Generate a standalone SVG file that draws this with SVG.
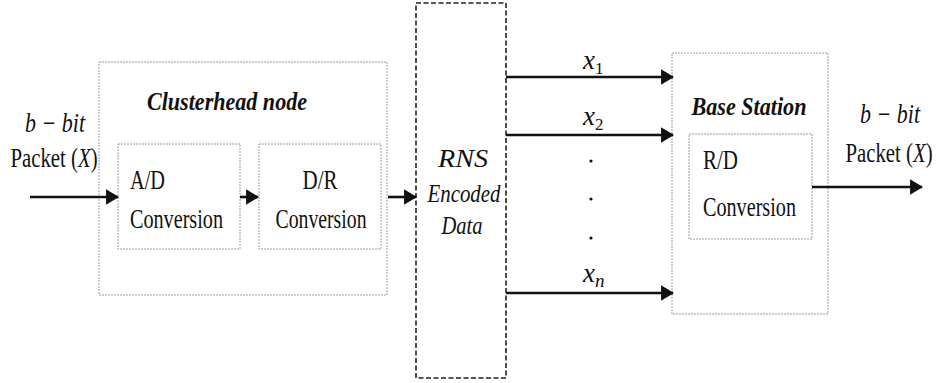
<svg xmlns="http://www.w3.org/2000/svg" width="936" height="383" viewBox="0 0 936 383">
<style>
.box{fill:#fff;stroke:#9c9c9c;stroke-width:1;stroke-dasharray:2 1}
.rns{fill:#fff;stroke:#222;stroke-width:1.6;stroke-dasharray:5 2.5}
.conn{stroke:#111;stroke-width:2.6;fill:none;marker-end:url(#ah)}
text{font-family:'Liberation Serif','DejaVu Serif',serif;fill:#111}
.i{font-style:italic}
.bi{font-style:italic;font-weight:bold}
</style>
<defs>
<marker id="ah" markerWidth="5" markerHeight="6" refX="4.6" refY="3" orient="auto" markerUnits="strokeWidth">
<path d="M0,0 L5,3 L0,6 z" fill="#111"/>
</marker>
</defs>
<rect width="936" height="383" fill="#fff"/>
<g id="clusterhead">
<rect class="box" x="99" y="62" width="288" height="233"/>
<text class="bi" font-family="Liberation Serif, serif" x="227" y="110" font-size="26" text-anchor="middle" textLength="160" lengthAdjust="spacingAndGlyphs">Clusterhead node</text>
</g>
<g id="ad">
<rect class="box" x="118" y="144" width="122" height="105"/>
<text font-family="Liberation Serif, serif" x="130" y="189" font-size="28" textLength="35" lengthAdjust="spacingAndGlyphs">A/D</text>
<text font-family="Liberation Serif, serif" x="130" y="228" font-size="28" textLength="93" lengthAdjust="spacingAndGlyphs">Conversion</text>
</g>
<g id="dr">
<rect class="box" x="259" y="144" width="122" height="105"/>
<text font-family="Liberation Serif, serif" x="320" y="189" font-size="28" text-anchor="middle" textLength="35" lengthAdjust="spacingAndGlyphs">D/R</text>
<text font-family="Liberation Serif, serif" x="321" y="228" font-size="28" text-anchor="middle" textLength="91" lengthAdjust="spacingAndGlyphs">Conversion</text>
</g>
<g id="rns">
<rect class="rns" x="416" y="3" width="90" height="375"/>
<text class="i" font-family="Liberation Serif, serif" x="463" y="167" font-size="25" text-anchor="middle" textLength="50" lengthAdjust="spacingAndGlyphs">RNS</text>
<text class="i" font-family="Liberation Serif, serif" x="464" y="202" font-size="25" text-anchor="middle" textLength="73" lengthAdjust="spacingAndGlyphs">Encoded</text>
<text class="i" font-family="Liberation Serif, serif" x="462" y="234" font-size="25" text-anchor="middle" textLength="41" lengthAdjust="spacingAndGlyphs">Data</text>
</g>
<g id="base">
<rect class="box" x="672" y="53" width="156" height="261"/>
<text class="bi" font-family="Liberation Serif, serif" x="749" y="115" font-size="26" text-anchor="middle" textLength="115" lengthAdjust="spacingAndGlyphs">Base Station</text>
</g>
<g id="rd">
<rect class="box" x="689" y="134" width="123" height="105"/>
<text font-family="Liberation Serif, serif" x="703" y="169" font-size="28" textLength="35" lengthAdjust="spacingAndGlyphs">R/D</text>
<text font-family="Liberation Serif, serif" x="703" y="216" font-size="28" textLength="93" lengthAdjust="spacingAndGlyphs">Conversion</text>
</g>
<g id="input-label">
<text class="i" font-family="Liberation Serif, serif" x="55" y="132" font-size="27" text-anchor="middle" textLength="60" lengthAdjust="spacingAndGlyphs">b − bit</text>
<text font-family="Liberation Serif, serif" font-size="27" text-anchor="middle" transform="translate(54,167) scale(0.77,1)">Packet (<tspan font-style="italic">X</tspan>)</text>
</g>
<g id="output-label">
<text class="i" font-family="Liberation Serif, serif" x="890" y="123" font-size="27" text-anchor="middle" textLength="60" lengthAdjust="spacingAndGlyphs">b − bit</text>
<text font-family="Liberation Serif, serif" font-size="27" text-anchor="middle" transform="translate(889,162) scale(0.77,1)">Packet (<tspan font-style="italic">X</tspan>)</text>
</g>
<g id="channel-labels">
<text class="i" font-family="Liberation Serif, serif" x="583" y="69" font-size="27">x<tspan font-size="17" dy="5" font-style="normal">1</tspan></text>
<text class="i" font-family="Liberation Serif, serif" x="583" y="125" font-size="27">x<tspan font-size="17" dy="5" font-style="normal">2</tspan></text>
<text class="i" font-family="Liberation Serif, serif" x="583" y="282" font-size="27">x<tspan font-size="19" dy="5">n</tspan></text>
<circle cx="591" cy="161" r="1.6" fill="#111"/>
<circle cx="591" cy="199" r="1.6" fill="#111"/>
<circle cx="591" cy="238" r="1.6" fill="#111"/>
</g>
<g id="connectors">
<line class="conn" x1="30" y1="197" x2="118" y2="197"/>
<line class="conn" x1="240" y1="197" x2="258" y2="197"/>
<line class="conn" x1="388" y1="197" x2="416" y2="197"/>
<line class="conn" x1="506" y1="77" x2="673" y2="77"/>
<line class="conn" x1="506" y1="135" x2="673" y2="135"/>
<line class="conn" x1="506" y1="293" x2="673" y2="293"/>
<line class="conn" x1="812" y1="187" x2="922" y2="187"/>
</g>
</svg>
